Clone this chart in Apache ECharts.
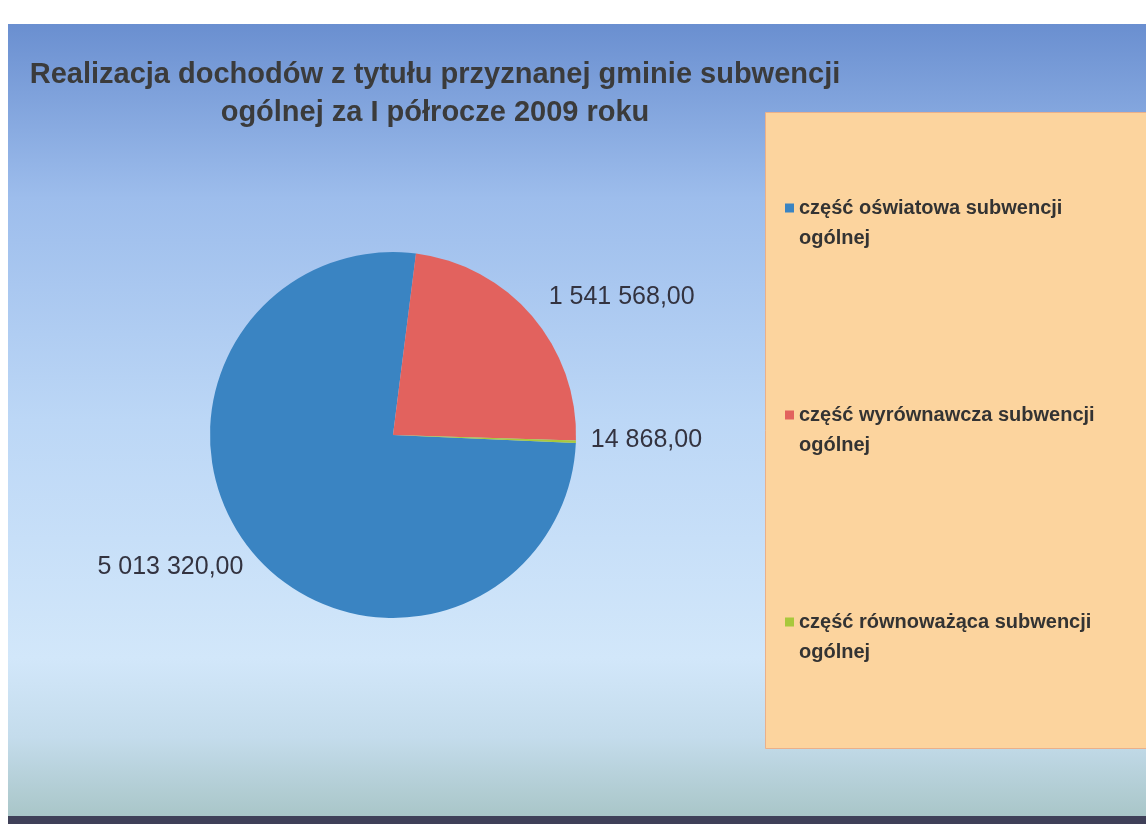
<!DOCTYPE html>
<html>
<head>
<meta charset="utf-8">
<script src="https://cdn.jsdelivr.net/npm/echarts@6/dist/echarts.min.js"></script>
<style>
  html, body { margin: 0; padding: 0; background: #ffffff; }
  #chart { position: absolute; left: 8px; top: 24px; width: 1138px; height: 792px; border-bottom: 8px solid #3f4058; }
</style>
</head>
<body>
<div id="chart"></div>
<script>
  var titleText = 'Realizacja dochodów z tytułu przyznanej gminie subwencji\nogólnej za I półrocze 2009 roku';
  var categories = ['część oświatowa subwencji ogólnej', 'część wyrównawcza subwencji ogólnej', 'część równoważąca subwencji ogólnej'];
  var values = [5013320.00, 1541568.00, 14868.00];
  var colors = ['#3a84c2', '#e2625e', '#a8c83c'];

  function fmt(v) {
    var parts = v.toFixed(2).split('.');
    return parts[0].replace(/\B(?=(\d{3})+(?!\d))/g, ' ') + ',' + parts[1];
  }

  // small nudges so the value labels sit where the original ones are
  var labelShift = [[6, 5], [1, -10], [-4, -2]];

  var myChart = echarts.init(document.getElementById('chart'));
  var option = {
    backgroundColor: {
      type: 'linear', x: 0, y: 0, x2: 0, y2: 1,
      colorStops: [
        { offset: 0, color: '#6a8fd0' },
        { offset: 0.22, color: '#9dbdec' },
        { offset: 0.5, color: '#bcd7f6' },
        { offset: 0.8, color: '#d2e7fa' },
        { offset: 0.9, color: '#c4dcec' },
        { offset: 1, color: '#a9c6c8' }
      ]
    },
    graphic: [{
      type: 'rect',
      left: 757, top: 88,
      shape: { width: 390, height: 636 },
      style: { fill: '#fcd49e', stroke: '#eab08a', lineWidth: 1 },
      z: 0
    }],
    title: {
      text: titleText,
      left: 422,
      textAlign: 'center',
      top: 27,
      textStyle: {
        fontFamily: 'Liberation Sans, Arial, sans-serif',
        fontSize: 29,
        fontWeight: 'bold',
        color: '#3b3b3b',
        lineHeight: 38
      }
    },
    legend: {
      orient: 'vertical',
      left: 777,
      top: 169,
      padding: 0,
      itemWidth: 9,
      itemHeight: 39,
      itemGap: 147,
      icon: 'path://M0,0L9,0L9,9L0,9Z M0,39L0,39Z',
      data: categories,
      formatter: function (name) { return name.replace(' ogólnej', '\nogólnej'); },
      textStyle: {
        fontFamily: 'Liberation Sans, Arial, sans-serif',
        fontSize: 20,
        fontWeight: 'bold',
        color: '#333333',
        lineHeight: 30
      }
    },
    series: [{
      type: 'pie',
      center: [385, 411],
      radius: 183,
      startAngle: -2.5,
      clockwise: true,
      avoidLabelOverlap: false,
      color: colors,
      data: categories.map(function (c, i) { return { name: c, value: values[i] }; }),
      label: {
        show: true,
        position: 'outside',
        distance: 4,
        formatter: function (p) { return fmt(p.value); },
        fontFamily: 'Liberation Sans, Arial, sans-serif',
        fontSize: 25,
        color: '#333340'
      },
      labelLine: { show: false, length: 14, length2: 0 },
      labelLayout: function (p) {
        return { dx: labelShift[p.dataIndex][0], dy: labelShift[p.dataIndex][1] };
      },
      emphasis: { disabled: true }
    }]
  };
  myChart.setOption(option);
  window.addEventListener('resize', function () { myChart.resize(); });
</script>
</body>
</html>
